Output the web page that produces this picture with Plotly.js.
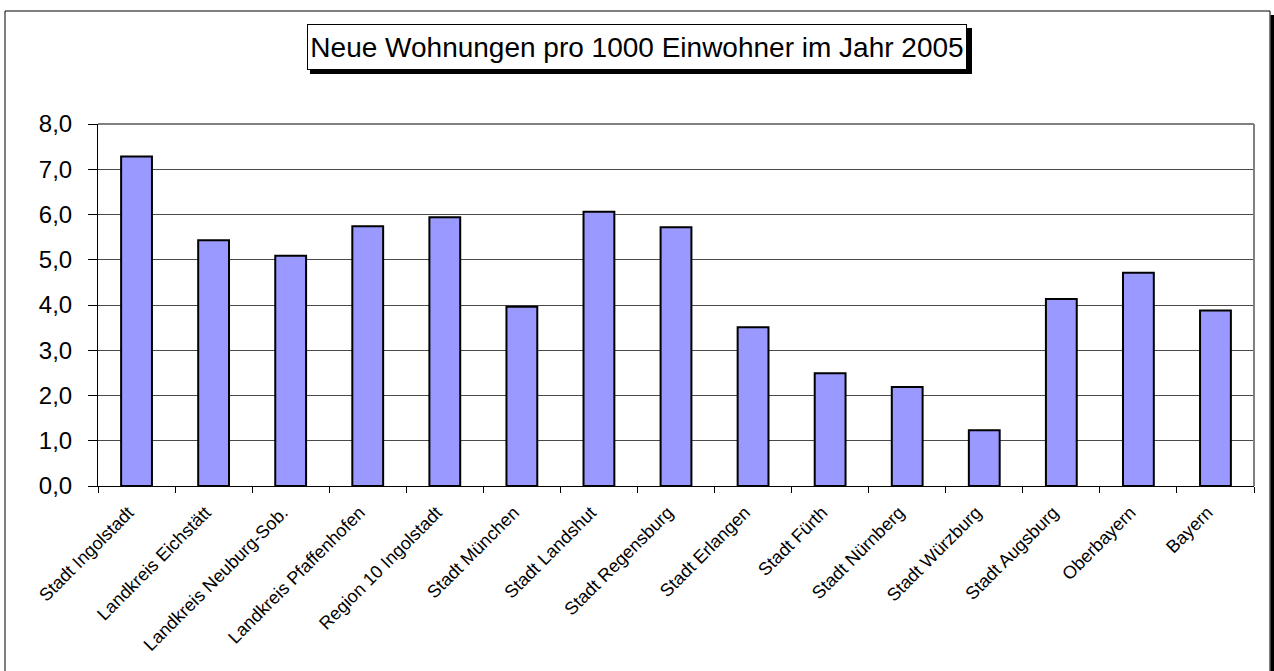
<!DOCTYPE html>
<html>
<head>
<meta charset="utf-8">
<script src="https://cdn.plot.ly/plotly-3.0.1.min.js"></script>
<style>
html,body{margin:0;padding:0;background:#fff;}
#chart{width:1274px;height:671px;}
</style>
</head>
<body>
<div id="chart"></div>
<script>
const categories = [
  "Stadt Ingolstadt", "Landkreis Eichstätt", "Landkreis Neuburg-Sob.",
  "Landkreis Pfaffenhofen", "Region 10 Ingolstadt", "Stadt München",
  "Stadt Landshut", "Stadt Regensburg", "Stadt Erlangen", "Stadt Fürth",
  "Stadt Nürnberg", "Stadt Würzburg", "Stadt Augsburg", "Oberbayern", "Bayern"
];
const values = [7.28, 5.43, 5.09, 5.74, 5.94, 3.96, 6.06, 5.72, 3.51, 2.49, 2.19, 1.23, 4.13, 4.71, 3.88];
const titleText = "Neue Wohnungen pro 1000 Einwohner im Jahr 2005";
const yTicks = [0, 1, 2, 3, 4, 5, 6, 7, 8];

const W = 1274, H = 671;
const M = {l: 98, r: 20, t: 124, b: 185};
const PW = W - M.l - M.r, PH = H - M.t - M.b;
const px = x => (x - M.l) / PW;
const py = y => (H - M.b - y) / PH;

const font = "Liberation Sans, Arial, sans-serif";

const trace = {
  type: "bar",
  x: categories,
  y: values,
  marker: {color: "#9999FF", line: {color: "#000000", width: 2}},
  hoverinfo: "x+y"
};

const shapes = [
  // outer chart frame
  {type: "rect", xref: "paper", yref: "paper", x0: px(5), x1: px(1270), y0: py(700), y1: py(11),
   line: {color: "#000", width: 1}, fillcolor: "rgba(0,0,0,0)", layer: "below"},
  // frame shadow right
  {type: "rect", xref: "paper", yref: "paper", x0: px(1270.5), x1: px(1274), y0: py(700), y1: py(15),
   line: {width: 0}, fillcolor: "#000", layer: "below"},
  // plot area top & right border (gray)
  {type: "line", xref: "paper", yref: "paper", x0: 0, x1: 1, y0: 1, y1: 1,
   line: {color: "#808080", width: 2}},
  {type: "line", xref: "paper", yref: "paper", x0: 1, x1: 1, y0: 0, y1: 1,
   line: {color: "#808080", width: 2}},
  // title box shadow
  {type: "rect", xref: "paper", yref: "paper", x0: px(310), x1: px(972), y0: py(74), y1: py(28),
   line: {width: 0}, fillcolor: "#000"}
];

const layout = {
  width: W, height: H,
  margin: M,
  paper_bgcolor: "#fff",
  plot_bgcolor: "#fff",
  separators: ",.",
  showlegend: false,
  bargap: 0.6,
  font: {family: font, color: "#000"},
  xaxis: {
    type: "category",
    tickangle: -45,
    tickfont: {family: font, size: 18, color: "#000"},
    showline: true, linecolor: "#000", linewidth: 1,
    ticks: "outside", ticklen: 6, tickcolor: "#000", tickwidth: 1,
    tickson: "boundaries",
    ticklabelstandoff: 8,
    ticklabelshift: -8,
    showgrid: false,
    zeroline: false
  },
  yaxis: {
    range: [0, 8],
    tickvals: yTicks,
    tickformat: ".1f",
    tickfont: {family: font, size: 24, color: "#000"},
    showline: true, linecolor: "#000", linewidth: 1,
    ticks: "outside", ticklen: 9, tickcolor: "#000", tickwidth: 1,
    ticklabelstandoff: 11,
    showgrid: true, gridcolor: "#4a4a4a", gridwidth: 1,
    zeroline: false
  },
  shapes: shapes,
  annotations: [{
    xref: "paper", yref: "paper",
    x: px(637), y: py(47), xanchor: "center", yanchor: "middle",
    text: titleText, showarrow: false,
    font: {family: font, size: 28, color: "#000"},
    bgcolor: "#fff", bordercolor: "#000", borderwidth: 1,
    width: 652, height: 38, borderpad: 3
  }]
};

Plotly.newPlot("chart", [trace], layout, {displayModeBar: false, staticPlot: true});
</script>
</body>
</html>
